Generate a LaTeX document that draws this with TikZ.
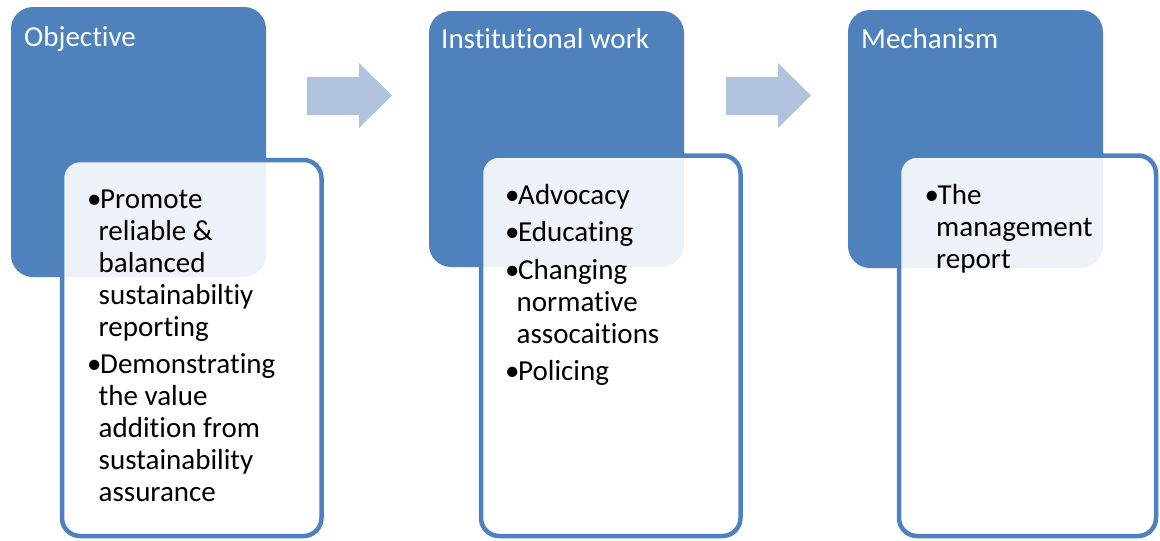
\documentclass[tikz,border=0pt]{standalone}
\usepackage{fontspec}
\setmainfont{Carlito}[RawFeature={-liga}]
\definecolor{hdrblue}{HTML}{4F81BD}
\definecolor{arrowblue}{HTML}{B0C2DE}
\newcommand\cont{\hspace*{11.5pt}}
\newcommand\bul{\makebox[13pt][l]{•}}
\newcommand\bodyfont{\fontsize{29}{32}\selectfont}
\begin{document}
\begin{tikzpicture}[x=1pt,y=-1pt,
  hdr/.style={rounded corners=22pt, fill=hdrblue, inner sep=0, outer sep=0},
  card/.style={rounded corners=18pt, draw=hdrblue, line width=4.5pt, fill=white, fill opacity=0.9, inner sep=0, outer sep=0},
  ttl/.style={anchor=base west, inner sep=0, text=white, font=\bodyfont},
  body/.style={anchor=base west, inner sep=0, font=\bodyfont},
  arr/.style={fill=arrowblue}]
\useasboundingbox (0,0) rectangle (1160,541);
% header boxes
\node[hdr, minimum width=255, minimum height=270] (h1) at (138.5,142) {};
\node[hdr, minimum width=255, minimum height=256] (h2) at (556.5,139) {};
\node[hdr, minimum width=255, minimum height=258] (h3) at (975.5,139) {};
% cards
\node[card, minimum width=259.5, minimum height=376] (c1) at (191.75,348) {};
\node[card, minimum width=259.5, minimum height=380.5] (c2) at (610.75,345.75) {};
\node[card, minimum width=257, minimum height=380.5] (c3) at (1027.5,345.75) {};
% arrows
\fill[arr] (307,77) -- (359,77) -- (359,63) -- (392,95.5) -- (359,128) -- (359,115) -- (307,115) -- cycle;
\fill[arr] (726,77) -- (778,77) -- (778,63) -- (811,95.5) -- (778,128) -- (778,115) -- (726,115) -- cycle;
% titles
\node[ttl] (t1) at (24,46) {Objective};
\node[ttl] (t2) at (441,48) {Institutional work};
\node[ttl] (t3) at (861,48) {Mechanism};
% bodies
\node[body] (b1) at (87,208) {\parbox[t]{240pt}{\bodyfont\raggedright
\bul Promote\\
\cont reliable \&\\
\cont balanced\\
\cont sustainabiltiy\\
\cont reporting\\[5.5pt]
\bul Demonstrating\\
\cont the value\\
\cont addition from\\
\cont sustainability\\
\cont assurance}};
\node[body] (b2) at (505,204) {\parbox[t]{240pt}{\bodyfont\raggedright
\bul Advocacy\\[5.5pt]
\bul Educating\\[5.5pt]
\bul Changing\\
\cont normative\\
\cont assocaitions\\[5.5pt]
\bul Policing}};
\node[body] (b3) at (924.5,204) {\parbox[t]{240pt}{\bodyfont\raggedright
\bul The\\
\cont management\\
\cont report}};
\end{tikzpicture}
\end{document}
